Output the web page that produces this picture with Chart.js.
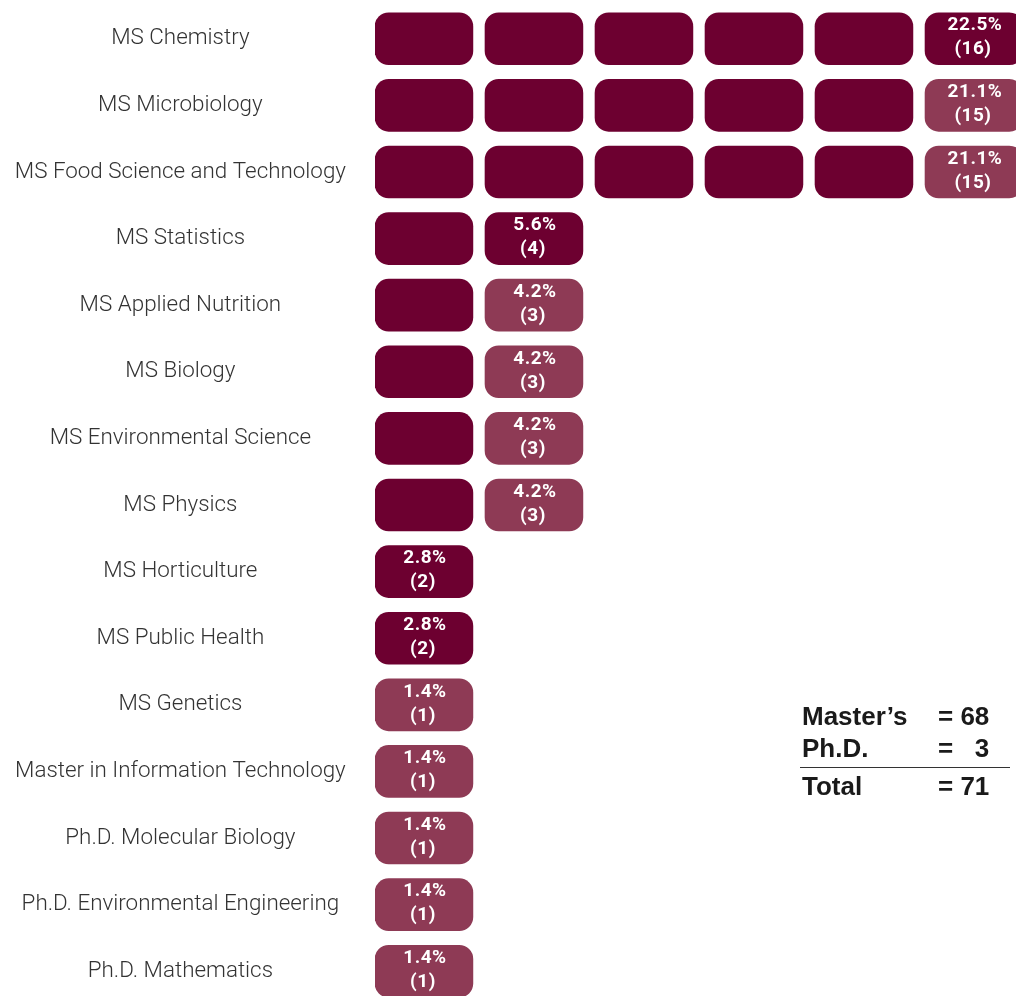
<!DOCTYPE html>
<html lang="en">
<head>
<meta charset="UTF-8">
<title>Graduate programs</title>
<script src="https://cdn.jsdelivr.net/npm/chart.js@4.4.0/dist/chart.umd.min.js"></script>
<style>
  html, body { margin: 0; padding: 0; background: #fff; overflow: hidden; }
  #wrap { position: relative; width: 1016px; height: 996px; overflow: hidden; }
  #chart { position: absolute; left: 0; top: -29.5px; }
  .sum { position: absolute; font-family: "Liberation Sans", Arial, sans-serif; font-weight: bold;
         font-size: 26px; color: #1a1a1a; line-height: 30px; white-space: pre; }
  #rule { position: absolute; left: 800px; top: 767px; width: 210px; height: 0; border-top: 1.5px solid #333; }
</style>
</head>
<body>
<div id="wrap">
  <canvas id="chart" width="1016" height="1068"></canvas>
  <div class="sum" style="left:802px;top:701px">Master’s</div>
  <div class="sum" style="left:938px;top:701px">= 68</div>
  <div class="sum" style="left:802px;top:733px">Ph.D.</div>
  <div class="sum" style="left:938px;top:733px">=   3</div>
  <div id="rule"></div>
  <div class="sum" style="left:802px;top:771px">Total</div>
  <div class="sum" style="left:938px;top:771px">= 71</div>
</div>
<script>
// programs, top to bottom
const programs = ['MS Chemistry', 'MS Microbiology', 'MS Food Science and Technology', 'MS Statistics',
  'MS Applied Nutrition', 'MS Biology', 'MS Environmental Science', 'MS Physics', 'MS Horticulture',
  'MS Public Health', 'MS Genetics', 'Master in Information Technology', 'Ph.D. Molecular Biology',
  'Ph.D. Environmental Engineering', 'Ph.D. Mathematics'];
const percents = ['22.5%', '21.1%', '21.1%', '5.6%', '4.2%', '4.2%', '4.2%', '4.2%', '2.8%', '2.8%',
  '1.4%', '1.4%', '1.4%', '1.4%', '1.4%'];
const counts = [16, 15, 15, 4, 3, 3, 3, 3, 2, 2, 1, 1, 1, 1, 1];
// number of icons per row and whether the last icon is a full one
const blocks = [6, 6, 6, 2, 2, 2, 2, 2, 1, 1, 1, 1, 1, 1, 1];
const lastFull = [true, false, false, true, false, false, false, false, true, true, false, false, false, false, false];

const dark = '#6d0030';
const light = '#8e3a55';

const datasets = [];
for (let k = 0; k < 6; k++) {
  datasets.push({
    data: blocks.map(b => k < b ? [k, k + 0.89] : null),
    backgroundColor: blocks.map((b, i) => (k === b - 1 && !lastFull[i]) ? light : dark),
    borderRadius: 14,
    borderSkipped: false,
    barThickness: 52,
    grouped: false
  });
}

// percentage + count written inside the last icon of each row
const valueLabels = {
  id: 'valueLabels',
  afterDatasetsDraw(chart) {
    const ctx = chart.ctx;
    ctx.save();
    ctx.fillStyle = '#fff';
    ctx.font = 'bold 19px Roboto';
    ctx.letterSpacing = '0.5px';
    ctx.textAlign = 'center';
    ctx.textBaseline = 'middle';
    blocks.forEach((b, i) => {
      const el = chart.getDatasetMeta(b - 1).data[i];
      const cx = (el.x + el.base) / 2;
      ctx.fillText(percents[i], cx + 1, el.y - 13);
      ctx.fillText('(' + counts[i] + ')', cx - 1, el.y + 11);
    });
    ctx.restore();
  }
};

new Chart(document.getElementById('chart'), {
  type: 'bar',
  data: { labels: programs, datasets: datasets },
  options: {
    indexAxis: 'y',
    responsive: false,
    animation: false,
    layout: { padding: 0 },
    plugins: { legend: { display: false }, tooltip: { enabled: false } },
    scales: {
      x: { min: 0, max: 5.827, display: false },
      y: {
        grid: { display: false },
        border: { display: false },
        afterFit: s => { s.width = 375; },
        ticks: {
          crossAlign: 'center',
          padding: 21,
          color: '#333',
          font: { family: 'Roboto', weight: 300, size: 22.4 }
        }
      }
    }
  },
  plugins: [valueLabels]
});
</script>
</body>
</html>
